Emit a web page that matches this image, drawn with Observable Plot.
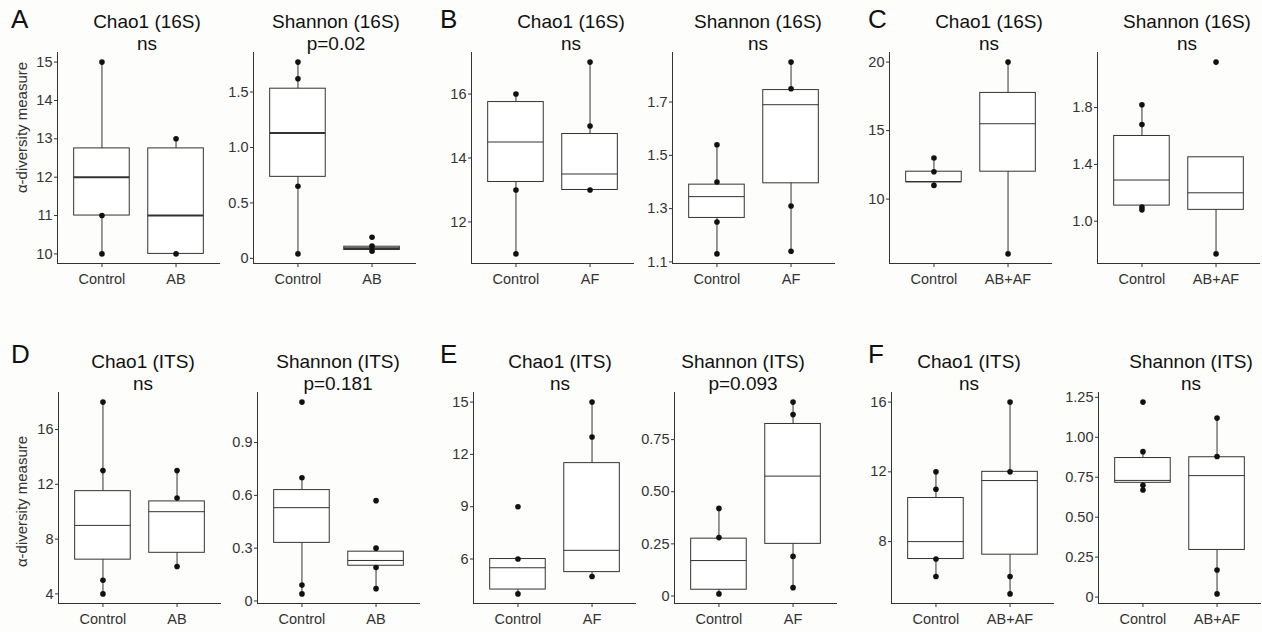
<!DOCTYPE html>
<html><head><meta charset="utf-8">
<script src="https://cdn.jsdelivr.net/npm/d3@7"></script>
<script src="https://cdn.jsdelivr.net/npm/@observablehq/plot@0.6"></script>
<style>
html,body{margin:0;padding:0;background:#fdfdfb;}
#root{position:relative;width:1262px;height:632px;overflow:hidden;font-family:"Liberation Sans",Arial,sans-serif;}
#root svg.sub{position:absolute;overflow:visible;}
#overlay{position:absolute;left:0;top:0;}
</style></head><body><div id="root"></div>
<script>
// ---------- DATA ----------
const panelLetters = ["A","B","C","D","E","F"];
const groupsAB = ["Control","AB"];
const groupsAF = ["Control","AF"];
const groupsABAF = ["Control","AB+AF"];
const titles = ["Chao1 (16S)","Shannon (16S)","Chao1 (16S)","Shannon (16S)","Chao1 (16S)","Shannon (16S)",
                "Chao1 (ITS)","Shannon (ITS)","Chao1 (ITS)","Shannon (ITS)","Chao1 (ITS)","Shannon (ITS)"];
const pLabels = ["ns","p=0.02","ns","ns","ns","ns","ns","p=0.181","ns","p=0.093","ns","ns"];
const yAxisTitle = "α-diversity measure";

// box stats per group: [lower whisker, Q1, median, Q3, upper whisker]
const A_chao_stats = [[10,11,12,12.75,15],[10,10,11,12.75,13]];
const A_chao_points = [[15,11,10],[13,10]];
const A_shan_stats = [[0.04,0.735,1.13,1.53,1.77],[0.065,0.075,0.09,0.105,0.11]];
const A_shan_points = [[1.77,1.62,0.65,0.04],[0.19,0.11,0.065]];

const B_chao_stats = [[11,13.25,14.5,15.75,16],[13,13,13.5,14.75,17]];
const B_chao_points = [[16,13,11],[17,15,13]];
const B_shan_stats = [[1.13,1.265,1.345,1.39,1.54],[1.14,1.395,1.69,1.745,1.85]];
const B_shan_points = [[1.54,1.40,1.25,1.13],[1.85,1.75,1.31,1.14]];

const C_chao_stats = [[11,11.25,11.25,12,13],[6,12,15.5,17.75,20]];
const C_chao_points = [[13,12,11],[20,6]];
const C_shan_stats = [[1.08,1.11,1.29,1.60,1.82],[0.77,1.08,1.20,1.45,1.45]];
const C_shan_points = [[1.82,1.68,1.10,1.08],[2.12,0.77]];

const D_chao_stats = [[4,6.5,9,11.5,18],[6,7,10,10.75,13]];
const D_chao_points = [[18,13,5,4],[13,11,6]];
const D_shan_stats = [[0.04,0.33,0.53,0.63,0.70],[0.07,0.20,0.23,0.28,0.30]];
const D_shan_points = [[1.13,0.70,0.09,0.04],[0.57,0.30,0.19,0.07]];

const E_chao_stats = [[4,4.25,5.5,6,6],[5,5.25,6.5,11.5,15]];
const E_chao_points = [[9,6,4],[15,13,5]];
const E_shan_stats = [[0.01,0.03,0.17,0.275,0.42],[0.04,0.25,0.575,0.825,0.93]];
const E_shan_points = [[0.42,0.28,0.01],[0.93,0.87,0.19,0.04]];

const F_chao_stats = [[6,7,8,10.5,12],[5,7.25,11.5,12,16]];
const F_chao_points = [[12,11,7,6],[16,12,6,5]];
const F_shan_stats = [[0.67,0.715,0.73,0.87,0.91],[0.02,0.295,0.76,0.875,1.12]];
const F_shan_points = [[1.22,0.91,0.70,0.67],[1.12,0.88,0.17,0.02]];

// y tick values and their labels
const A_chao_ticks = [10,11,12,13,14,15], A_chao_tickLabels = ["10","11","12","13","14","15"];
const A_shan_ticks = [0,0.5,1,1.5], A_shan_tickLabels = ["0","0.5","1.0","1.5"];
const B_chao_ticks = [12,14,16], B_chao_tickLabels = ["12","14","16"];
const B_shan_ticks = [1.1,1.3,1.5,1.7], B_shan_tickLabels = ["1.1","1.3","1.5","1.7"];
const C_chao_ticks = [10,15,20], C_chao_tickLabels = ["10","15","20"];
const C_shan_ticks = [1.0,1.4,1.8], C_shan_tickLabels = ["1.0","1.4","1.8"];
const D_chao_ticks = [4,8,12,16], D_chao_tickLabels = ["4","8","12","16"];
const D_shan_ticks = [0,0.3,0.6,0.9], D_shan_tickLabels = ["0","0.3","0.6","0.9"];
const E_chao_ticks = [6,9,12,15], E_chao_tickLabels = ["6","9","12","15"];
const E_shan_ticks = [0,0.25,0.5,0.75], E_shan_tickLabels = ["0","0.25","0.50","0.75"];
const F_chao_ticks = [8,12,16], F_chao_tickLabels = ["8","12","16"];
const F_shan_ticks = [0,0.25,0.5,0.75,1,1.25], F_shan_tickLabels = ["0","0.25","0.50","0.75","1.00","1.25"];

// ---------- LAYOUT ----------
const axisLeftTop = [57.3,253.3,471,672.3,889,1097.3];
const axisLeftBot = [58.3,257.3,472.7,674.3,890.7,1098.3];
const titleCxTop = [147,336,571,758,989,1187];
const titleCxBot = [143,338,560,743,969,1191];
const rowTop = [52,392];
const panelH = 211, panelW = 163, ML = 40, MB = 34;

const specs = [
  {groups:groupsAB, stats:A_chao_stats, points:A_chao_points, ticks:A_chao_ticks, labels:A_chao_tickLabels, medW:2},
  {groups:groupsAB, stats:A_shan_stats, points:A_shan_points, ticks:A_shan_ticks, labels:A_shan_tickLabels, medW:2},
  {groups:groupsAF, stats:B_chao_stats, points:B_chao_points, ticks:B_chao_ticks, labels:B_chao_tickLabels, medW:1},
  {groups:groupsAF, stats:B_shan_stats, points:B_shan_points, ticks:B_shan_ticks, labels:B_shan_tickLabels, medW:1},
  {groups:groupsABAF, stats:C_chao_stats, points:C_chao_points, ticks:C_chao_ticks, labels:C_chao_tickLabels, medW:1},
  {groups:groupsABAF, stats:C_shan_stats, points:C_shan_points, ticks:C_shan_ticks, labels:C_shan_tickLabels, medW:1},
  {groups:groupsAB, stats:D_chao_stats, points:D_chao_points, ticks:D_chao_ticks, labels:D_chao_tickLabels, medW:1},
  {groups:groupsAB, stats:D_shan_stats, points:D_shan_points, ticks:D_shan_ticks, labels:D_shan_tickLabels, medW:1},
  {groups:groupsAF, stats:E_chao_stats, points:E_chao_points, ticks:E_chao_ticks, labels:E_chao_tickLabels, medW:1},
  {groups:groupsAF, stats:E_shan_stats, points:E_shan_points, ticks:E_shan_ticks, labels:E_shan_tickLabels, medW:1},
  {groups:groupsABAF, stats:F_chao_stats, points:F_chao_points, ticks:F_chao_ticks, labels:F_chao_tickLabels, medW:1},
  {groups:groupsABAF, stats:F_shan_stats, points:F_shan_points, ticks:F_shan_ticks, labels:F_shan_tickLabels, medW:1}
];

const root = document.getElementById("root");
const FONT = "'Liberation Sans', Arial, sans-serif";
const LINE = "#333333";

specs.forEach((s, k) => {
  const row = k < 6 ? 0 : 1, col = k % 6;
  const groups = s.groups;
  const stats = s.stats.map((v,i) => ({g:i+1, lo:v[0], q1:v[1], med:v[2], q3:v[3], hi:v[4]}));
  const pts = s.points.flatMap((arr,i) => arr.map(v => ({g:i+1, v})));
  const all = pts.map(d => d.v).concat(stats.flatMap(d => [d.lo, d.hi]));
  const [mn, mx] = d3.extent(all);
  const pad = (mx - mn) * 0.05;
  const y0 = mn - pad, y1 = mx + pad;
  const chart = Plot.plot({
    width: ML + panelW, height: panelH + MB,
    marginLeft: ML, marginRight: 0, marginTop: 0, marginBottom: MB,
    x: {domain: [0.4, 2.6], ticks: [1, 2], tickFormat: i => groups[i - 1], tickSize: 4, tickPadding: 6, label: null},
    y: {domain: [y0, y1], ticks: s.ticks, tickFormat: v => s.labels[s.ticks.indexOf(v)], tickSize: 3, tickPadding: 2, label: null},
    style: {background: "transparent", fontSize: "14.5px", fontFamily: FONT, color: "#333", overflow: "visible"},
    marks: [
      Plot.ruleX(stats, {x: "g", y1: "lo", y2: "hi", stroke: LINE, strokeWidth: 1}),
      Plot.rect(stats, {x1: d => d.g - 0.375, x2: d => d.g + 0.375, y1: "q1", y2: "q3", fill: "white", stroke: LINE, strokeWidth: 1}),
      Plot.ruleY(stats, {x1: d => d.g - 0.375, x2: d => d.g + 0.375, y: "med", stroke: LINE, strokeWidth: s.medW}),
      Plot.dot(pts, {x: "g", y: "v", r: 2.8, fill: "#111", stroke: "none"}),
      Plot.ruleX([0.4], {stroke: LINE, strokeWidth: 1}),
      Plot.ruleY([y0], {stroke: LINE, strokeWidth: 1})
    ]
  });
  chart.classList.add("sub");
  const left = (row === 0 ? axisLeftTop : axisLeftBot)[col] - ML;
  chart.style.left = left + "px";
  chart.style.top = rowTop[row] + "px";
  root.appendChild(chart);
});

// overlay text: titles, p-values, panel letters, y-axis titles
const svg = d3.select(root).append("svg").attr("id", "overlay")
  .attr("width", 1262).attr("height", 632)
  .style("font-family", FONT);

specs.forEach((s, k) => {
  const row = k < 6 ? 0 : 1, col = k % 6;
  const cx = (row === 0 ? titleCxTop : titleCxBot)[col];
  const base = row === 0 ? 28 : 368;
  svg.append("text").attr("x", cx).attr("y", base).attr("text-anchor", "middle")
    .attr("font-size", 19).attr("fill", "#111").text(titles[k]);
  svg.append("text").attr("x", cx).attr("y", base + 22).attr("text-anchor", "middle")
    .attr("font-size", 19).attr("fill", "#111").text(pLabels[k]);
});

const letterX = [11, 440, 868];
panelLetters.forEach((L, i) => {
  const row = i < 3 ? 0 : 1;
  svg.append("text").attr("x", letterX[i % 3]).attr("y", row === 0 ? 28 : 363)
    .attr("font-size", 26).attr("fill", "#111").text(L);
});

[[27, 127.5], [27, 501.5]].forEach(([x, y]) => {
  svg.append("text").attr("transform", `translate(${x},${y}) rotate(-90)`)
    .attr("text-anchor", "middle").attr("font-size", 15).attr("fill", "#333").text(yAxisTitle);
});
</script></body></html>
